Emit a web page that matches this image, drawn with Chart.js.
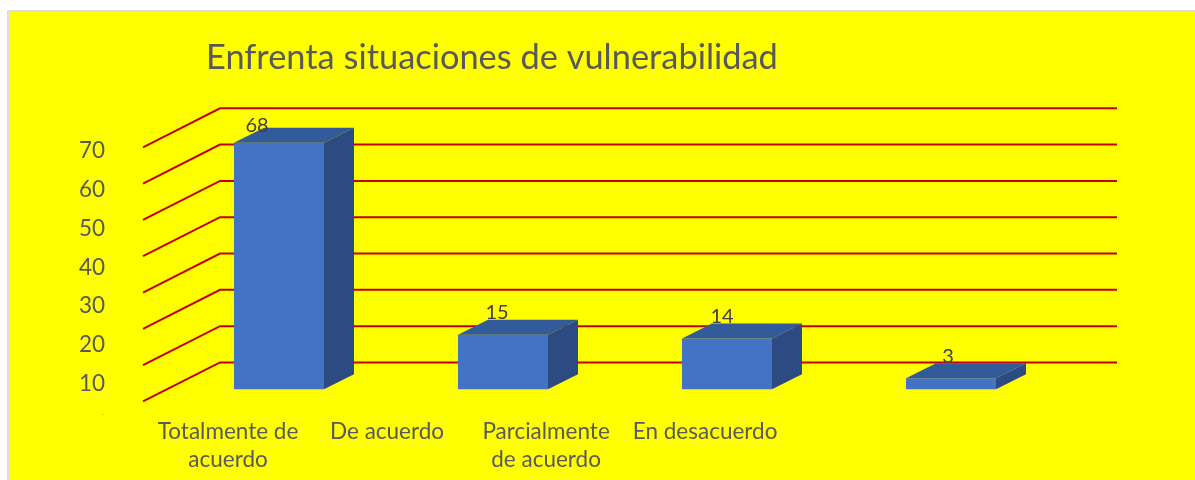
<!DOCTYPE html>
<html lang="es"><head><meta charset="utf-8">
<style>html,body{margin:0;padding:0;background:#fff;overflow:hidden}canvas{display:block}</style>
<script src="https://cdn.jsdelivr.net/npm/chart.js@4"></script>
</head><body><canvas id="c" width="1195" height="480"></canvas>
<script>
const titleText = "Enfrenta situaciones de vulnerabilidad";
const categories = ["Totalmente de acuerdo","De acuerdo","Parcialmente de acuerdo","En desacuerdo"];
const categoryLabelRows = [["Totalmente de","acuerdo"],["De acuerdo"],["Parcialmente","de acuerdo"],["En desacuerdo"]];
const values = [68,15,14,3];
const wallTicks = [0,10,20,30,40,50,60,70];
const axisLabels = [10,20,30,40,50,60,70];

const FONT = "Lato, Carlito, 'Open Sans', sans-serif";
const TEXT = "#595959";
const DEPTH_X = 30, DEPTH_Y = 15;
const labelOffsetX = [-22,-6,-5,-3];
const labelOffsetY = [-17,-22,-22,-22];

const scenery = {
  id:"scenery",
  beforeDraw(chart){
    const c = chart.ctx;
    c.save();
    c.fillStyle="#ffffff"; c.fillRect(0,0,1195,480);
    c.fillStyle="#dcdcdc"; c.fillRect(7,10,1188,470);
    c.fillStyle="#ffff00"; c.fillRect(9,12,1186,468);
    c.restore();
  },
  beforeDatasetsDraw(chart){
    const c = chart.ctx, w = chart.scales.yWall;
    c.save();
    c.strokeStyle="#c00000"; c.lineWidth=2; c.lineJoin="miter";
    wallTicks.forEach(v=>{
      const y = w.getPixelForValue(v);
      c.beginPath();
      c.moveTo(143,y+39); c.lineTo(220,y); c.lineTo(1117,y);
      c.stroke();
    });
    c.restore();
  },
  afterDatasetsDraw(chart){
    const c = chart.ctx, bars = chart.getDatasetMeta(0).data;
    c.save();
    bars.forEach((b,i)=>{
      const hw = b.width/2, l=b.x-hw, r=b.x+hw, t=b.y, bt=b.base;
      c.fillStyle="#335a99";
      c.beginPath(); c.moveTo(l,t); c.lineTo(l+DEPTH_X,t-DEPTH_Y); c.lineTo(r+DEPTH_X,t-DEPTH_Y); c.lineTo(r,t); c.closePath(); c.fill();
      c.fillStyle="#2c4b82";
      c.beginPath(); c.moveTo(r,t); c.lineTo(r+DEPTH_X,t-DEPTH_Y); c.lineTo(r+DEPTH_X,bt-DEPTH_Y); c.lineTo(r,bt); c.closePath(); c.fill();
    });
    c.fillStyle="#404040"; c.font="20px "+FONT; c.textAlign="center"; c.textBaseline="middle";
    bars.forEach((b,i)=>{ c.fillText(String(values[i]), b.x+labelOffsetX[i], b.y+labelOffsetY[i]); });
    c.restore();
  },
  afterLayout(chart){
    const t = chart.titleBlock;
    if(t){ t.left=206; t.right=780; }
  }
};

new Chart(document.getElementById("c"),{
  type:"bar",
  data:{labels:categories,datasets:[{data:values,backgroundColor:"#4472c4",barPercentage:90/224,categoryPercentage:1,xAxisID:"x",yAxisID:"y"}]},
  plugins:[scenery],
  options:{
    responsive:false,animation:false,
    layout:{padding:{left:0,right:132,top:0,bottom:0}},
    plugins:{
      legend:{display:false},tooltip:{enabled:false},
      title:{display:true,text:titleText,align:"start",color:TEXT,
        font:{family:FONT,size:34.4,weight:"normal",lineHeight:1.2},
        padding:{top:37,bottom:22}}
    },
    scales:{
      x:{display:false},
      xLabels:{type:"linear",position:"bottom",offset:false,min:-0.384,max:5.251,
        grid:{display:false},border:{display:false},
        afterBuildTicks(s){ s.ticks = categoryLabelRows.map((_,i)=>({value:i})); },
        afterFit(s){ s.height=58; },
        ticks:{autoSkip:false,maxRotation:0,minRotation:0,padding:-3,color:TEXT,
          font:{family:FONT,size:22.5,lineHeight:1.244},
          callback(v){ return categoryLabelRows[v]; }}
      },
      y:{display:false,min:-6.63,max:79.71},
      yWall:{display:false,min:-13.97,max:72.2},
      yLabels:{position:"left",min:2.44,max:83.07,
        grid:{display:false,drawTicks:false},border:{display:false},
        afterBuildTicks(s){ s.ticks = [{value:2.2}].concat(axisLabels.map(v=>({value:v}))); },
        afterFit(s){ s.width=167; },
        ticks:{padding:62,color(c){return c.tick.value<5?"#b0b000":TEXT;},
          font(c){return {family:FONT,size:c.tick&&c.tick.value<5?8:22.5};},
          callback(v){ return v<5?"-":String(v); }}
      }
    }
  }
});
</script></body></html>
